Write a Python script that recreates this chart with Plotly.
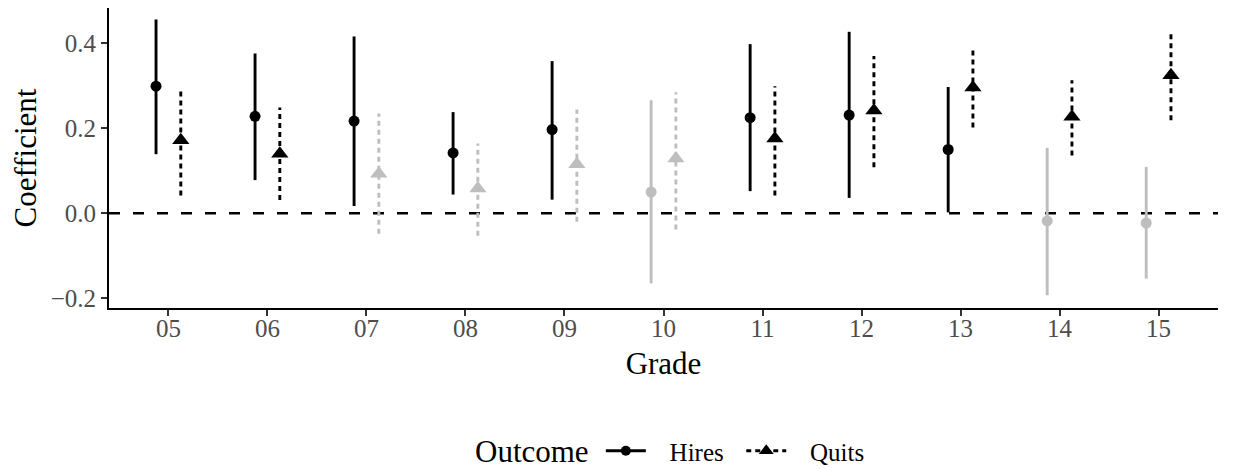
import plotly.graph_objects as go

grades = ["05", "06", "07", "08", "09", "10", "11", "12", "13", "14", "15"]

hires_est = [0.299, 0.228, 0.217, 0.142, 0.197, 0.050, 0.225, 0.231, 0.150, -0.018, -0.023]
hires_lo = [0.139, 0.078, 0.017, 0.044, 0.032, -0.165, 0.052, 0.036, 0.002, -0.193, -0.154]
hires_hi = [0.456, 0.376, 0.416, 0.238, 0.358, 0.266, 0.398, 0.427, 0.297, 0.154, 0.109]

quits_est = [0.172, 0.140, 0.093, 0.058, 0.115, 0.129, 0.176, 0.242, 0.296, 0.227, 0.325]
quits_lo = [0.042, 0.031, -0.048, -0.053, -0.020, -0.038, 0.042, 0.108, 0.202, 0.136, 0.219]
quits_hi = [0.289, 0.249, 0.235, 0.164, 0.244, 0.285, 0.299, 0.370, 0.385, 0.313, 0.427]

y_ticks = [-0.2, 0.0, 0.2, 0.4]
y_tick_labels = ["\u22120.2", "0.0", "0.2", "0.4"]

BLACK = "#000000"
GRAY = "#BEBEBE"
FONT = "Liberation Serif"
DODGE = 0.125
NB = "\u00a0"

def sig(lo, hi):
    return lo > 0 or hi < 0

fig = go.Figure()

def add_ranges(est, lo, hi, offset, dash, name):
    for color, want in ((GRAY, False), (BLACK, True)):
        xs, ys = [], []
        for i in range(len(grades)):
            if sig(lo[i], hi[i]) == want:
                xs += [i + 1 + offset, i + 1 + offset, None]
                ys += [lo[i], hi[i], None]
        fig.add_trace(go.Scatter(x=xs, y=ys, mode="lines",
                                 line=dict(color=color, width=2.9, dash=dash),
                                 showlegend=False, hoverinfo="skip", name=name))

add_ranges(hires_est, hires_lo, hires_hi, -DODGE, "solid", "Hires")
add_ranges(quits_est, quits_lo, quits_hi, DODGE, "5px,4px", "Quits")

hx = [i + 1 - DODGE for i in range(len(grades))]
qx = [i + 1 + DODGE for i in range(len(grades))]
hcol = [BLACK if sig(l, h) else GRAY for l, h in zip(hires_lo, hires_hi)]
qcol = [BLACK if sig(l, h) else GRAY for l, h in zip(quits_lo, quits_hi)]

fig.add_trace(go.Scatter(x=hx, y=hires_est, mode="markers",
                         marker=dict(symbol="circle", size=11, color=hcol, line=dict(width=0)),
                         showlegend=False, name="Hires"))
fig.add_trace(go.Scatter(x=qx, y=quits_est, mode="markers",
                         marker=dict(symbol="triangle-up", size=15, color=qcol, line=dict(width=0)),
                         showlegend=False, name="Quits"))

# legend entries
fig.add_trace(go.Scatter(x=[None], y=[None], mode="lines+markers", name=NB * 3 + "Hires" + NB * 2,
                         line=dict(color=BLACK, width=2.9, dash="solid"),
                         marker=dict(symbol="circle", size=10, color=BLACK)))
fig.add_trace(go.Scatter(x=[None], y=[None], mode="lines+markers", name=NB * 3 + "Quits",
                         line=dict(color=BLACK, width=2.9, dash="5px,4px"),
                         marker=dict(symbol="triangle-up", size=13, color=BLACK)))

fig.add_shape(type="line", xref="paper", yref="y", x0=0, x1=1, y0=0, y1=0,
              line=dict(color=BLACK, width=2.6, dash="11px,13px"), layer="below")

fig.add_annotation(text="Outcome", xref="paper", yref="paper", x=0.3282, y=-0.4767,
                   xanchor="left", yanchor="middle", showarrow=False,
                   font=dict(size=31, family=FONT, color="black"))

# the page body has an 8px margin, so the figure is offset by 8px
fig.update_layout(
    width=1217, height=461,
    margin=dict(l=101, r=7, t=0, b=161, autoexpand=False),
    paper_bgcolor="white", plot_bgcolor="white",
    font=dict(family=FONT, color="black"),
    showlegend=True,
    legend=dict(orientation="h", x=0.4435, xanchor="left", y=-0.4767, yanchor="middle",
                font=dict(size=25, family=FONT, color="black"),
                itemwidth=40, bgcolor="rgba(0,0,0,0)"),
)

fig.update_xaxes(
    range=[0.4, 11.6], tickmode="array", tickvals=list(range(1, len(grades) + 1)),
    ticktext=grades, showgrid=False, zeroline=False, automargin=False,
    showline=True, linecolor="black", linewidth=2,
    ticks="outside", ticklen=6, tickwidth=2, tickcolor="#333333",
    ticklabelstandoff=-9,
    tickfont=dict(size=25, family=FONT, color="#4D4D4D"),
    title=dict(text="Grade", font=dict(size=31, family=FONT, color="black"), standoff=11),
)
fig.update_yaxes(
    range=[-0.223, 0.483], tickmode="array", tickvals=y_ticks, ticktext=y_tick_labels,
    showgrid=False, zeroline=False, automargin=False,
    showline=True, linecolor="black", linewidth=2,
    ticks="outside", ticklen=6, tickwidth=2, tickcolor="#333333",
    tickfont=dict(size=25, family=FONT, color="#4D4D4D"),
    title=dict(text="Coefficient", font=dict(size=31, family=FONT, color="black"), standoff=11),
)

fig.write_html("out.html")
